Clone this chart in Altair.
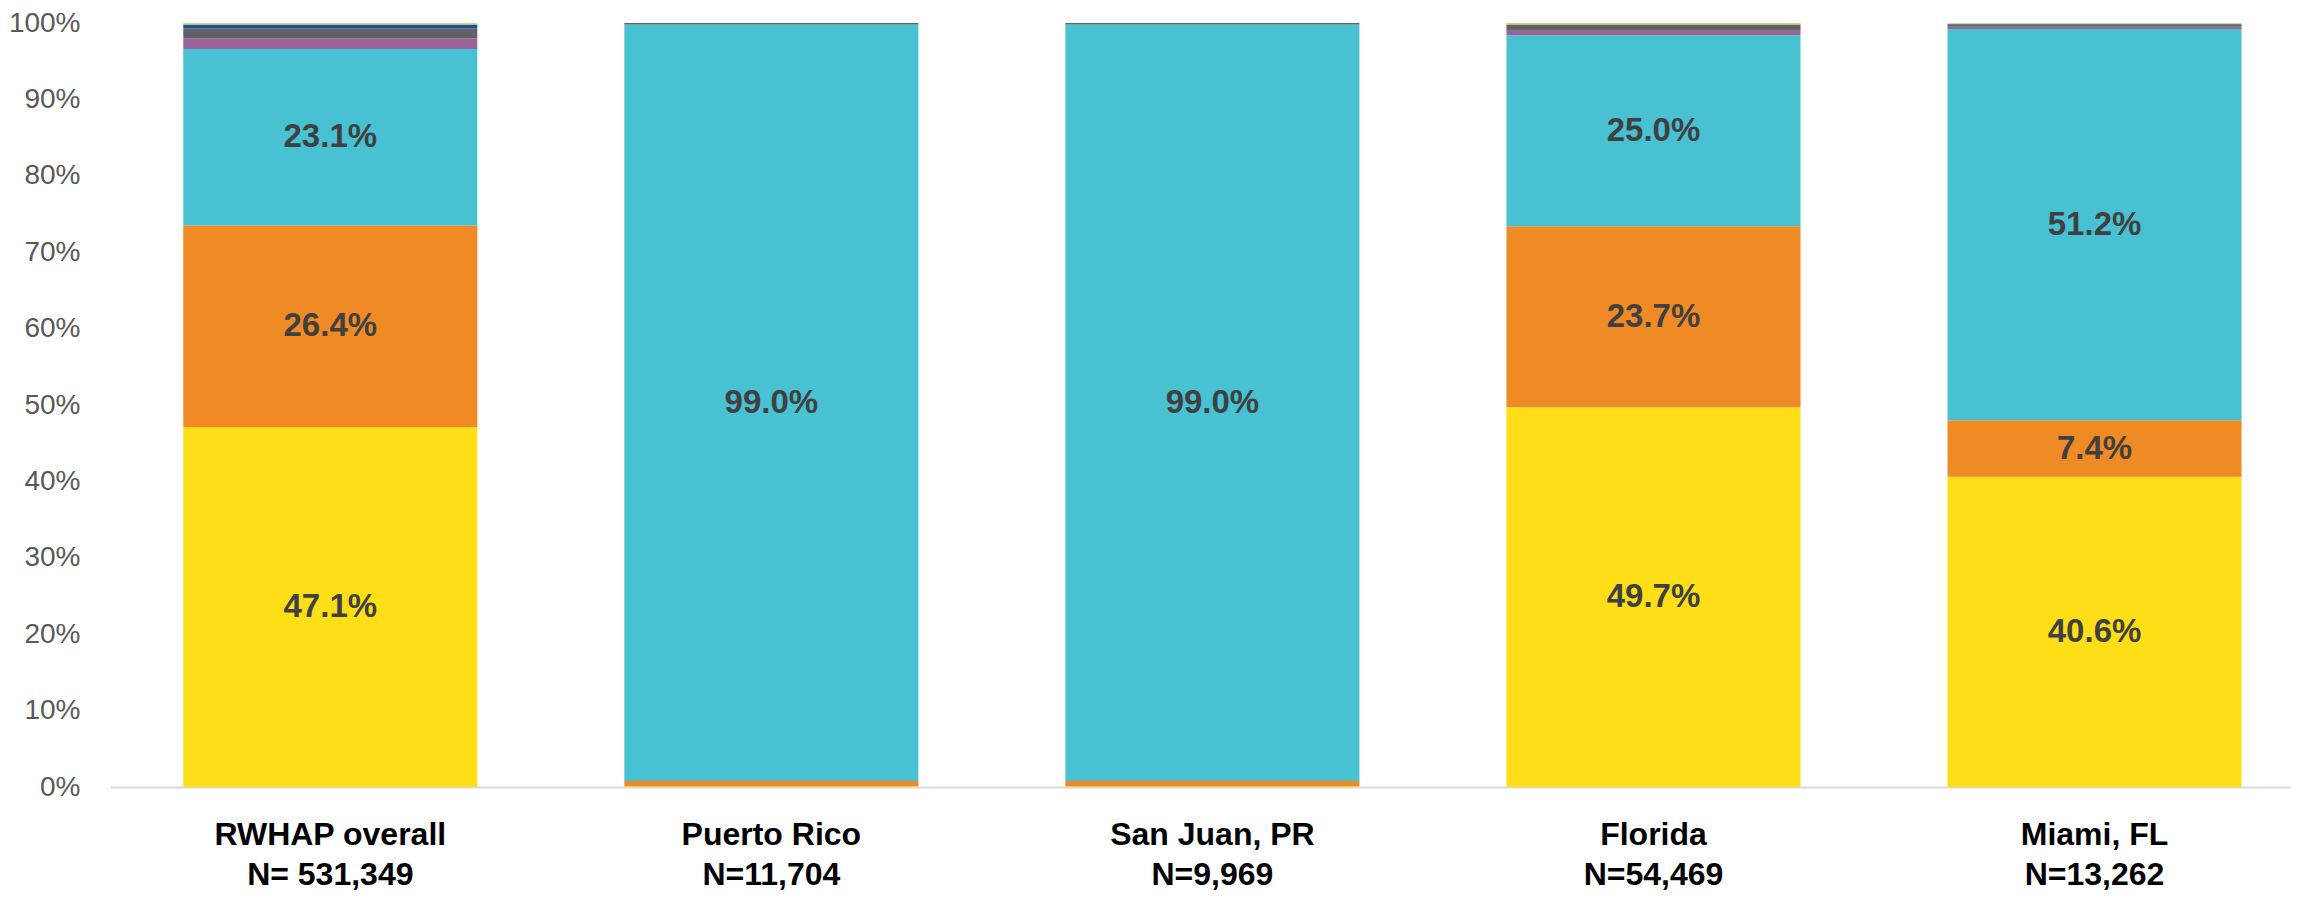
import altair as alt
import pandas as pd

categories = ["RWHAP overall", "Puerto Rico", "San Juan, PR", "Florida", "Miami, FL"]
n_labels = ["N= 531,349", "N=11,704", "N=9,969", "N=54,469", "N=13,262"]

groups = ["Black/African American", "White", "Hispanic/Latino", "Asian",
          "Multiple races", "American Indian/Alaska Native", "Native Hawaiian/Pacific Islander"]
black = [47.1, 0.1, 0.1, 49.7, 40.6]
white = [26.4, 0.7, 0.7, 23.7, 7.4]
hispanic = [23.1, 99.0, 99.0, 25.0, 51.2]
asian = [1.4, 0.0, 0.0, 0.6, 0.3]
multiple = [1.3, 0.2, 0.2, 0.8, 0.3]
aian = [0.5, 0.0, 0.0, 0.0, 0.1]
nhpi = [0.2, 0.0, 0.0, 0.2, 0.1]
series = [black, white, hispanic, asian, multiple, aian, nhpi]
colors = ["#FEDE17", "#F08A24", "#48C2D2", "#9A6399", "#626264", "#1E4E9B", "#C3DD73"]

rows = []
for gi, (g, vals) in enumerate(zip(groups, series)):
    for c, n, v in zip(categories, n_labels, vals):
        rows.append({"label": c + "|" + n, "group": g, "order": gi, "value": v})
df = pd.DataFrame(rows)
x_order = [c + "|" + n for c, n in zip(categories, n_labels)]

FONT = "Liberation Sans"

x_enc = alt.X(
    "label:N",
    sort=x_order,
    scale=alt.Scale(paddingInner=1 / 3, paddingOuter=0.138, align=0.602),
    axis=alt.Axis(
        title=None, labelAngle=0, labelExpr="split(datum.label, '|')",
        labelFont=FONT, labelFontSize=32, labelFontWeight="bold", labelColor="#000000",
        labelLineHeight=40, labelPadding=32, labelLimit=0, ticks=False,
        domainColor="#D9D9D9", domainWidth=2,
    ),
)
y_scale = alt.Scale(domain=[0, 100], nice=False)

bars = alt.Chart(df).mark_bar().encode(
    x=x_enc,
    y=alt.Y(
        "value:Q", stack="zero", scale=y_scale,
        axis=alt.Axis(
            title=None, values=list(range(0, 101, 10)), labelExpr="datum.value + '%'",
            labelFont=FONT, labelFontSize=28, labelColor="#595959", labelPadding=30,
            grid=False, domain=False, ticks=False,
        ),
    ),
    color=alt.Color("group:N", scale=alt.Scale(domain=groups, range=colors), legend=None),
    order=alt.Order("order:Q", sort="ascending"),
)

text = alt.Chart(df).transform_stack(
    stack="value", as_=["y0", "y1"], groupby=["label"],
    sort=[alt.SortField("order", order="ascending")],
).transform_calculate(
    mid="(datum.y0 + datum.y1) / 2",
    txt="format(datum.value, '.1f') + '%'",
).transform_filter("datum.value >= 5").mark_text(
    font=FONT, fontSize=33, fontWeight="bold", color="#404040", align="center", baseline="middle",
).encode(
    x=alt.X("label:N", sort=x_order),
    y=alt.Y("mid:Q", scale=y_scale),
    text="txt:N",
)

chart = alt.layer(bars, text).properties(
    width=2180, height=764,
    autosize=alt.AutoSizeParams(type="none"),
    padding={"left": 102, "top": 15, "right": 5, "bottom": 104},
).configure_view(stroke=None)

chart.save("out.html", embed_options={"renderer": "svg", "actions": False})
